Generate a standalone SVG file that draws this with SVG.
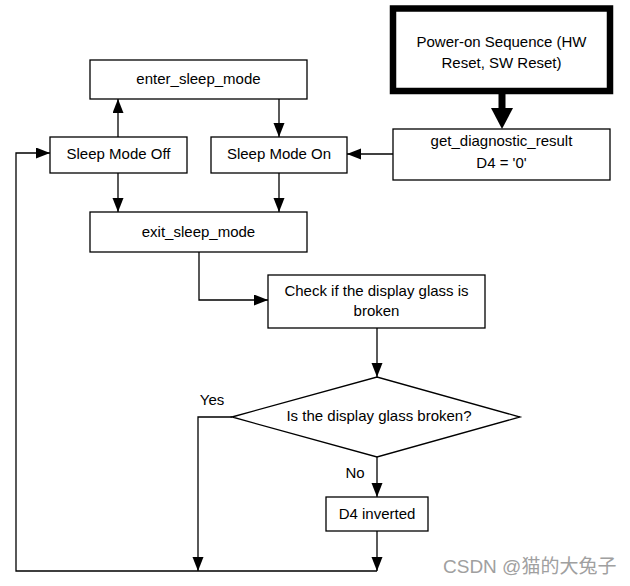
<svg xmlns="http://www.w3.org/2000/svg" width="630" height="586" viewBox="0 0 630 586">
<style>
.box{fill:#fff;stroke:#000;stroke-width:1.3}
.thick{fill:#fff;stroke:#000;stroke-width:6.5}
.t{font-family:"Liberation Sans",Arial,sans-serif;font-size:15px;fill:#000;text-anchor:middle}
.c{fill:none;stroke:#000;stroke-width:1.3}
.wm{font-family:"Liberation Sans","Noto Sans CJK SC",sans-serif;font-size:19px;fill:#a0a0a0}
</style>
<defs>
<marker id="ah" markerUnits="userSpaceOnUse" markerWidth="15" markerHeight="12" refX="14" refY="5.5" orient="auto">
<path d="M0,0 L14,5.5 L0,11 z" fill="#000"/>
</marker>
</defs>
<rect width="630" height="586" fill="#fff"/>
<g id="connectors">
<line x1="502" y1="93" x2="502" y2="109" stroke="#000" stroke-width="7"/>
<polygon points="491,108 513,108 502,129" fill="#000"/>
<line class="c" x1="393" y1="154" x2="347" y2="154" marker-end="url(#ah)"/>
<line class="c" x1="118" y1="137" x2="118" y2="99" marker-end="url(#ah)"/>
<line class="c" x1="279" y1="99" x2="279" y2="137" marker-end="url(#ah)"/>
<line class="c" x1="118" y1="173" x2="118" y2="212" marker-end="url(#ah)"/>
<line class="c" x1="279" y1="173" x2="279" y2="212" marker-end="url(#ah)"/>
<polyline class="c" points="199,252 199,300 268,300" marker-end="url(#ah)"/>
<line class="c" x1="377" y1="328" x2="377" y2="377" marker-end="url(#ah)"/>
<line class="c" x1="377" y1="457" x2="377" y2="497" marker-end="url(#ah)"/>
<line class="c" x1="377" y1="531" x2="377" y2="571" marker-end="url(#ah)"/>
<polyline class="c" points="232,417 198,417 198,571" marker-end="url(#ah)"/>
<polyline class="c" points="377,571 16,571 16,153 50,153" marker-end="url(#ah)"/>
<text class="t" x="212" y="405">Yes</text>
<text class="t" x="355" y="478">No</text>
</g>
<g id="power-on">
<rect class="thick" x="393" y="8.5" width="217" height="82.5"/>
<text class="t" x="501.5" y="47">Power-on Sequence (HW</text>
<text class="t" x="501.5" y="68">Reset, SW Reset)</text>
</g>
<g id="get-diagnostic">
<rect class="box" x="393" y="129" width="217" height="51"/>
<text class="t" x="501.5" y="146">get_diagnostic_result</text>
<text class="t" x="501.5" y="168">D4 = '0'</text>
</g>
<g id="enter-sleep">
<rect class="box" x="90" y="60" width="217" height="39"/>
<text class="t" x="198.5" y="84">enter_sleep_mode</text>
</g>
<g id="sleep-off">
<rect class="box" x="50" y="137" width="137" height="36"/>
<text class="t" x="118.5" y="159">Sleep Mode Off</text>
</g>
<g id="sleep-on">
<rect class="box" x="211" y="137" width="136" height="36"/>
<text class="t" x="279" y="159">Sleep Mode On</text>
</g>
<g id="exit-sleep">
<rect class="box" x="90" y="212" width="217" height="40"/>
<text class="t" x="198.5" y="237">exit_sleep_mode</text>
</g>
<g id="check">
<rect class="box" x="268" y="275" width="217" height="53"/>
<text class="t" x="376.5" y="296">Check if the display glass is</text>
<text class="t" x="376.5" y="316">broken</text>
</g>
<g id="decision">
<polygon class="box" points="232,417 377,377 520,417 377,457"/>
<text class="t" x="379" y="421">Is the display glass broken?</text>
</g>
<g id="d4-inverted">
<rect class="box" x="326" y="497" width="102" height="34"/>
<text class="t" x="377" y="519">D4 inverted</text>
</g>
<text class="wm" x="443" y="573">CSDN @猫的大兔子</text>
</svg>
